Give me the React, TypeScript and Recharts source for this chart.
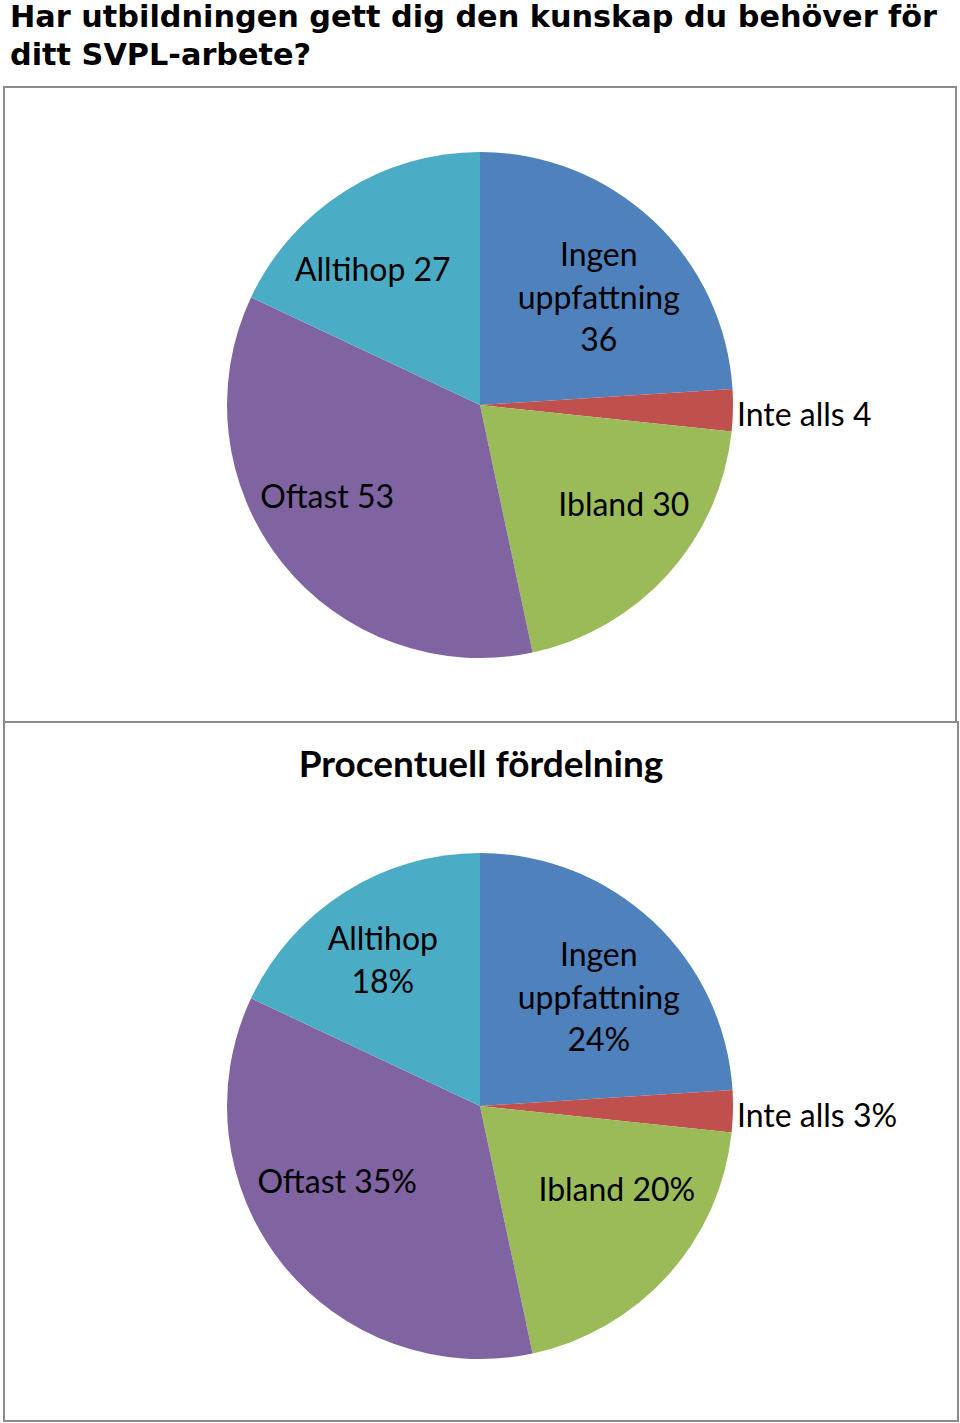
import { PieChart, Pie, Cell } from "recharts"

// answers, clockwise from 12 o'clock
const categories = ["Ingen uppfattning", "Inte alls", "Ibland", "Oftast", "Alltihop"]
const counts = [36, 4, 30, 53, 27]
const colors = ["#4F81BD", "#C0504D", "#9BBB59", "#8064A2", "#4BACC6"]

const TITLE = "Har utbildningen gett dig den kunskap du behöver för ditt SVPL-arbete?"
const SUBTITLE = "Procentuell fördelning"

const data = categories.map((name, i) => ({ name, value: counts[i] }))

const RAD = Math.PI / 180
const LABEL_FONT = "Lato, 'Open Sans', sans-serif"
const LABEL_SIZE = 32
const LINE_H = 42.5

// Excel's "best fit" pulls the labels a bit, small nudges per slice
const nudgeCounts = [[1, 16], [0, 0], [16, -17], [-18, -17], [-15, 8]]
const nudgePercent = [[1, 15], [0, 0], [9, -33], [-8, -33], [-5, -2]]

const makeLabel =
  (mode: "count" | "percent", wrapped: string[], nudges: number[][]) =>
  (props: any) => {
    const { cx, cy, midAngle, outerRadius, percent, index, name, value } = props
    const shown = mode === "count" ? String(value) : `${Math.round(percent * 100)}%`
    const cos = Math.cos(-midAngle * RAD)
    const sin = Math.sin(-midAngle * RAD)
    const outside = percent < 0.05
    let lines: string[]
    if (wrapped.includes(name)) lines = [...name.split(" "), shown]
    else lines = [`${name} ${shown}`]
    if (outside) {
      const x = cx + outerRadius + 4
      const y = cy + outerRadius * sin + 3
      return (
        <text x={x} y={y} textAnchor="start" dominantBaseline="central" fill="#000" fontFamily={LABEL_FONT} fontSize={LABEL_SIZE}>
          {lines[0]}
        </text>
      )
    }
    const r = outerRadius * 0.68
    const x = cx + r * cos + nudges[index][0]
    const y = cy + r * sin + nudges[index][1]
    const top = y - ((lines.length - 1) * LINE_H) / 2
    return (
      <text x={x} y={top} textAnchor="middle" dominantBaseline="central" fill="#000" fontFamily={LABEL_FONT} fontSize={LABEL_SIZE}>
        {lines.map((l, i) => (
          <tspan key={i} x={x} y={top + i * LINE_H}>
            {l}
          </tspan>
        ))}
      </text>
    )
  }

const boxStyle = {
  position: "absolute" as const,
  border: "2px solid #8a8a8a",
  background: "#fff",
  boxSizing: "border-box" as const,
}

export default function App() {
  return (
    <div style={{ position: "absolute", left: 0, top: 0, width: 960, height: 1423, background: "#fff" }}>
      <div
        style={{
          position: "absolute",
          left: 10,
          top: -2,
          width: 945,
          fontFamily: "'DejaVu Sans', Verdana, sans-serif",
          fontWeight: "bold",
          fontSize: 30.3,
          lineHeight: "38px",
          color: "#000",
        }}
      >
        {TITLE}
      </div>

      <div style={{ ...boxStyle, left: 3, top: 86, width: 954, height: 638 }}>
        <PieChart width={950} height={634}>
          <Pie
            data={data}
            dataKey="value"
            nameKey="name"
            cx={470}
            cy={312}
            outerRadius={253}
            startAngle={90}
            endAngle={-270}
            stroke="none"
            labelLine={false}
            label={makeLabel("count", ["Ingen uppfattning"], nudgeCounts)}
            isAnimationActive={false}
          >
            {data.map((d, i) => (
              <Cell key={d.name} fill={colors[i]} />
            ))}
          </Pie>
        </PieChart>
      </div>

      <div style={{ ...boxStyle, left: 3, top: 721, width: 956, height: 701 }}>
        <div
          style={{
            position: "absolute",
            left: 0,
            top: 17,
            width: "100%",
            textAlign: "center",
            fontFamily: LABEL_FONT,
            fontWeight: "bold",
            fontSize: 37,
            color: "#000",
          }}
        >
          {SUBTITLE}
        </div>
        <PieChart width={952} height={697}>
          <Pie
            data={data}
            dataKey="value"
            nameKey="name"
            cx={470}
            cy={378}
            outerRadius={253}
            startAngle={90}
            endAngle={-270}
            stroke="none"
            labelLine={false}
            label={makeLabel("percent", ["Ingen uppfattning", "Alltihop"], nudgePercent)}
            isAnimationActive={false}
          >
            {data.map((d, i) => (
              <Cell key={d.name} fill={colors[i]} />
            ))}
          </Pie>
        </PieChart>
      </div>
    </div>
  )
}
